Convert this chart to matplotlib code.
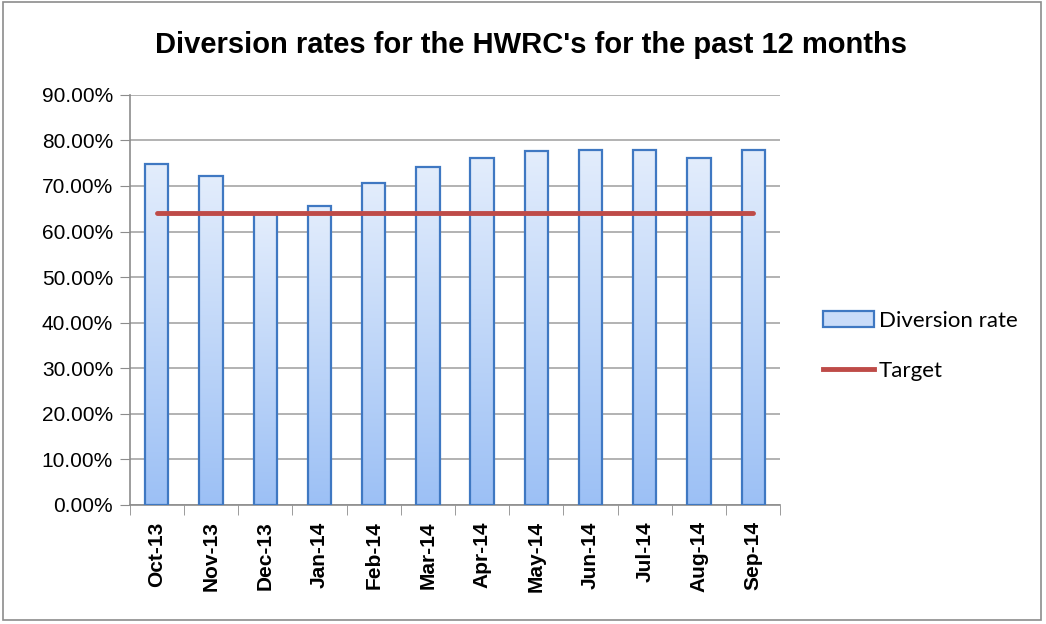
import numpy as np
import matplotlib.pyplot as plt
from matplotlib.patches import Rectangle, Patch
from matplotlib.lines import Line2D
from matplotlib.ticker import FixedLocator, PercentFormatter
from matplotlib.colors import LinearSegmentedColormap

months = ['Oct-13', 'Nov-13', 'Dec-13', 'Jan-14', 'Feb-14', 'Mar-14',
          'Apr-14', 'May-14', 'Jun-14', 'Jul-14', 'Aug-14', 'Sep-14']
diversion = [74.8, 72.2, 63.8, 65.6, 70.7, 74.2, 76.2, 77.7, 77.9, 77.9, 76.2, 77.9]
target = [64.0] * 12

plt.rcParams['font.family'] = ['Liberation Sans', 'DejaVu Sans']

fig = plt.figure(figsize=(10.46, 6.24), dpi=100)
ax = fig.add_axes([0.124, 0.191, 0.622, 0.657])

x = np.arange(len(months))
width = 0.43

# gradient fill inside each bar (light at top, darker blue at bottom)
grad = np.linspace(0, 1, 256).reshape(-1, 1)
cmap = LinearSegmentedColormap.from_list('bar', ['#9CC0F5', '#E3EDFC'])
bars = ax.bar(x, diversion, width, facecolor='none', edgecolor='#3F78C2',
              linewidth=1.6, zorder=3)
for b in bars:
    x0, h = b.get_x(), b.get_height()
    im = ax.imshow(grad, cmap=cmap, origin='lower', aspect='auto',
                   extent=[x0, x0 + width, 0, h], zorder=2)
    im.set_clip_path(b)

ax.plot(x, target, color='#BE4B48', linewidth=3.5, solid_capstyle='round', zorder=4)

ax.set_xlim(-0.5, len(months) - 0.5)
ax.set_ylim(0, 90)
ax.yaxis.set_major_locator(FixedLocator(np.arange(0, 91, 10)))
ax.yaxis.set_major_formatter(PercentFormatter(decimals=2))
ax.grid(axis='y', color='#A6A6A6', linewidth=1.2, zorder=0)
ax.set_axisbelow(True)

ax.set_xticks(x)
ax.set_xticklabels(months, rotation=90, fontsize=15, fontweight='bold')
ax.set_xticks(np.arange(-0.5, len(months)), minor=True)
ax.tick_params(axis='x', which='major', length=0, pad=12)
ax.tick_params(axis='x', which='minor', length=7, color='#8C8C8C')
ax.tick_params(axis='y', length=7, color='#8C8C8C', labelsize=15, pad=5)

for s in ['top', 'right']:
    ax.spines[s].set_visible(False)
for s in ['left', 'bottom']:
    ax.spines[s].set_color('#8C8C8C')
    ax.spines[s].set_linewidth(1.2)

fig.suptitle("Diversion rates for the HWRC's for the past 12 months",
             x=0.508, y=0.95, fontsize=21, fontweight='bold')

handles = [Patch(facecolor='#C9DCF9', edgecolor='#3F78C2', linewidth=1.6),
           Line2D([], [], color='#BE4B48', linewidth=3.5)]
fig.legend(handles, ['Diversion rate', 'Target'], loc='center left',
           bbox_to_anchor=(0.768, 0.446), frameon=False,
           handlelength=2.3, handletextpad=0.2, labelspacing=1.35,
           prop={'family': ['Lato', 'DejaVu Sans'], 'size': 16})

fig.patches.append(Rectangle((0.003, 0.006), 0.992, 0.99, transform=fig.transFigure,
                             fill=False, edgecolor='#8C8C8C', linewidth=1.2))

fig.savefig('out.png', dpi=100)
